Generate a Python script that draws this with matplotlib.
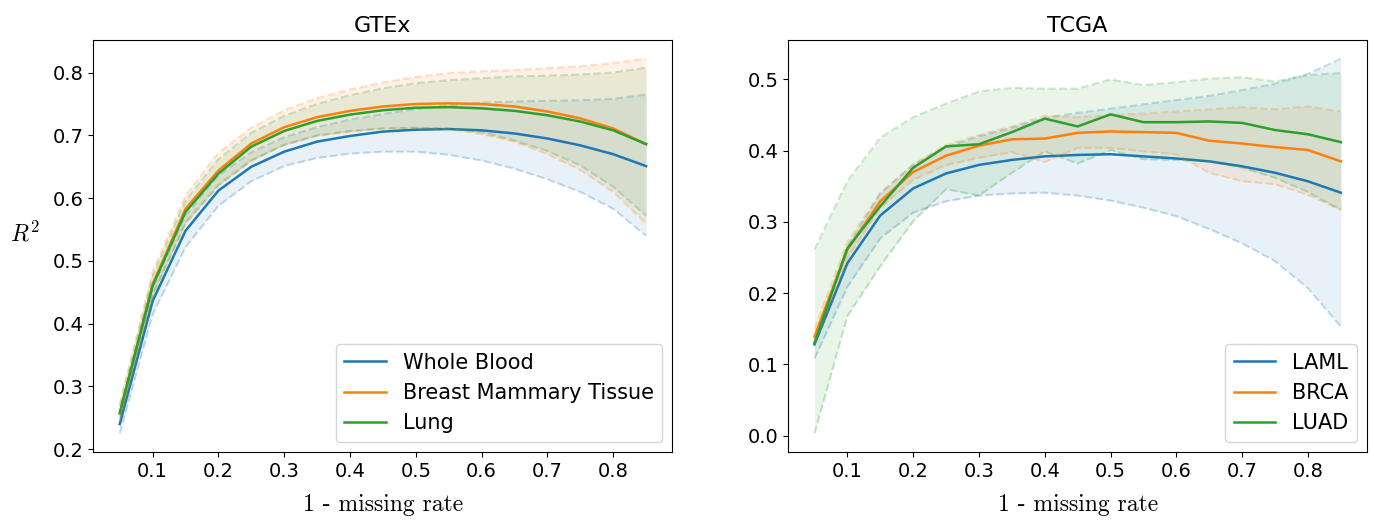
import numpy as np
import matplotlib
matplotlib.use("Agg")
import matplotlib.pyplot as plt

plt.rcParams["mathtext.fontset"] = "cm"

x = [0.05, 0.10, 0.15, 0.20, 0.25, 0.30, 0.35, 0.40, 0.45,
     0.50, 0.55, 0.60, 0.65, 0.70, 0.75, 0.80, 0.85]

# GTEx: mean, lower, upper
gtex_names = ["Whole Blood", "Breast Mammary Tissue", "Lung"]
wb_mean = [0.240, 0.436, 0.548, 0.612, 0.650, 0.674, 0.690, 0.699, 0.706, 0.709, 0.710, 0.708, 0.703, 0.695, 0.684, 0.670, 0.651]
wb_lo = [0.225, 0.415, 0.522, 0.588, 0.627, 0.651, 0.664, 0.671, 0.674, 0.674, 0.669, 0.660, 0.647, 0.630, 0.610, 0.583, 0.540]
wb_hi = [0.255, 0.457, 0.572, 0.636, 0.673, 0.697, 0.713, 0.725, 0.734, 0.742, 0.748, 0.752, 0.754, 0.755, 0.756, 0.758, 0.765]
bmt_mean = [0.256, 0.463, 0.583, 0.644, 0.687, 0.713, 0.729, 0.739, 0.746, 0.750, 0.751, 0.750, 0.746, 0.738, 0.727, 0.711, 0.686]
bmt_lo = [0.245, 0.447, 0.562, 0.622, 0.660, 0.685, 0.699, 0.706, 0.711, 0.712, 0.710, 0.702, 0.690, 0.670, 0.645, 0.610, 0.560]
bmt_hi = [0.272, 0.482, 0.604, 0.672, 0.712, 0.740, 0.759, 0.773, 0.784, 0.793, 0.799, 0.802, 0.804, 0.807, 0.810, 0.815, 0.822]
lung_mean = [0.258, 0.460, 0.578, 0.639, 0.682, 0.707, 0.723, 0.733, 0.740, 0.744, 0.745, 0.743, 0.739, 0.732, 0.722, 0.708, 0.686]
lung_lo = [0.248, 0.445, 0.560, 0.620, 0.660, 0.685, 0.700, 0.707, 0.711, 0.712, 0.711, 0.705, 0.692, 0.675, 0.652, 0.618, 0.572]
lung_hi = [0.268, 0.476, 0.596, 0.662, 0.704, 0.731, 0.750, 0.764, 0.775, 0.783, 0.788, 0.791, 0.794, 0.795, 0.797, 0.800, 0.808]

# TCGA: mean, lower, upper
tcga_names = ["LAML", "BRCA", "LUAD"]
laml_mean = [0.128, 0.242, 0.309, 0.347, 0.368, 0.380, 0.387, 0.392, 0.394, 0.395, 0.392, 0.389, 0.385, 0.378, 0.369, 0.357, 0.341]
laml_lo = [0.108, 0.209, 0.277, 0.313, 0.329, 0.337, 0.340, 0.341, 0.337, 0.330, 0.320, 0.308, 0.290, 0.270, 0.245, 0.207, 0.153]
laml_hi = [0.135, 0.265, 0.340, 0.380, 0.405, 0.420, 0.432, 0.446, 0.453, 0.459, 0.465, 0.471, 0.477, 0.485, 0.494, 0.508, 0.529]
brca_mean = [0.139, 0.261, 0.329, 0.370, 0.393, 0.407, 0.416, 0.417, 0.425, 0.427, 0.426, 0.425, 0.414, 0.410, 0.405, 0.401, 0.385]
brca_lo = [0.128, 0.250, 0.320, 0.359, 0.380, 0.390, 0.398, 0.384, 0.404, 0.404, 0.399, 0.395, 0.369, 0.357, 0.353, 0.338, 0.317]
brca_hi = [0.150, 0.272, 0.340, 0.381, 0.408, 0.422, 0.434, 0.449, 0.447, 0.450, 0.452, 0.455, 0.458, 0.461, 0.458, 0.462, 0.455]
luad_mean = [0.130, 0.263, 0.322, 0.376, 0.406, 0.409, 0.426, 0.445, 0.434, 0.451, 0.440, 0.440, 0.441, 0.439, 0.429, 0.423, 0.412]
luad_lo = [0.003, 0.168, 0.238, 0.301, 0.346, 0.337, 0.369, 0.399, 0.382, 0.401, 0.388, 0.387, 0.385, 0.376, 0.362, 0.342, 0.317]
luad_hi = [0.261, 0.357, 0.418, 0.447, 0.466, 0.483, 0.488, 0.487, 0.487, 0.500, 0.492, 0.496, 0.501, 0.503, 0.497, 0.506, 0.509]

colors = ["#1f77b4", "#ff7f0e", "#2ca02c"]

panels = [
    ("GTEx", gtex_names, [(wb_mean, wb_lo, wb_hi), (bmt_mean, bmt_lo, bmt_hi), (lung_mean, lung_lo, lung_hi)]),
    ("TCGA", tcga_names, [(laml_mean, laml_lo, laml_hi), (brca_mean, brca_lo, brca_hi), (luad_mean, luad_lo, luad_hi)]),
]

fig, axes = plt.subplots(1, 2, figsize=(13.74, 5.27), dpi=100)
fig.subplots_adjust(left=0.068, right=0.995, top=0.924, bottom=0.142, wspace=0.2)

for ax, (title, names, series) in zip(axes, panels):
    for name, (m, lo, hi), c in zip(names, series, colors):
        ax.plot(x, m, color=c, lw=1.8, label=name)
        ax.plot(x, lo, "--", color=c, lw=1.5, alpha=0.25)
        ax.plot(x, hi, "--", color=c, lw=1.5, alpha=0.25)
        ax.fill_between(x, lo, hi, color=c, alpha=0.1, lw=0)
    ax.set_title(title, fontsize=16)
    ax.set_xlabel("1 - missing rate", fontfamily="cmr10", fontsize=17, labelpad=9)
    ax.set_xticks([0.1, 0.2, 0.3, 0.4, 0.5, 0.6, 0.7, 0.8])
    ax.tick_params(labelsize=14)
    ax.legend(loc="lower right", fontsize=15)

axes[0].set_ylabel(r"$R^2$", fontsize=17, rotation=0, labelpad=20)

fig.savefig("out.png", dpi=100)
